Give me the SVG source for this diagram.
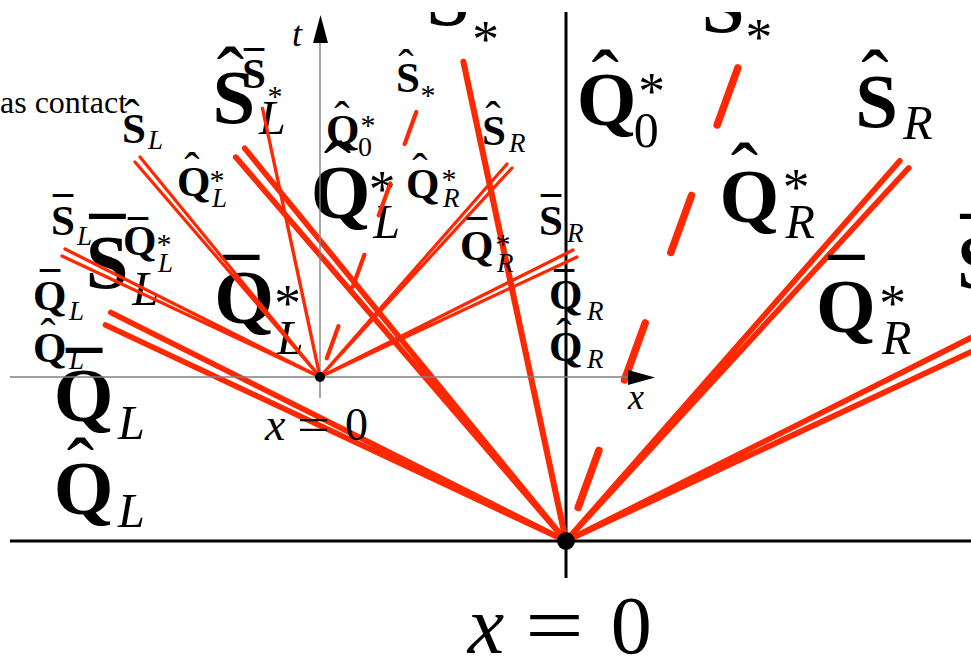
<svg xmlns="http://www.w3.org/2000/svg" width="971" height="657" viewBox="0 0 971 657">
<style>
.red{stroke:#ff2800;fill:none;stroke-linecap:round}
.dbl{stroke-width:3.2}
.sgl{stroke-width:3.4}
.dash{stroke-width:4.2;stroke-dasharray:34 42;stroke-dashoffset:-2.1}
text{font-family:"Liberation Serif","Times New Roman",serif;fill:#000}
.b{font-weight:bold;font-size:43px}
.i{font-style:italic;font-size:27px}
.r{font-size:28px}
.st{font-size:30px;text-anchor:middle}
.hat{font-size:46px;text-anchor:middle}
.bar{font-weight:bold;font-size:40px;text-anchor:middle}
.eq{font-size:46px}
.ax{font-style:italic;font-size:36px}
</style>
<defs>
<clipPath id="clipTop" clipPathUnits="userSpaceOnUse"><rect x="0" y="12" width="971" height="645"/></clipPath>
</defs>

<!-- large diagram -->
<g id="large" clip-path="url(#clipTop)">
<g id="large-axes" stroke="#000" stroke-width="3">
<line x1="10" y1="541" x2="971" y2="541"/>
<line x1="566" y1="12" x2="566" y2="578"/>
</g>
<g transform="translate(566 541) scale(1.785)">
<g id="large-connectors" class="red">
<path class="dbl" d="M0 0L-255 -128M0 0L-258 -121"/>
<path class="dbl" d="M0 0L-185 -215M0 0L-180 -220"/>
<path class="sgl" d="M0 0L-57.5 -268.5"/>
<path class="dash" d="M97 -267L0 0"/>
<path class="dbl" d="M0 0L187 -213M0 0L192 -209"/>
<path class="dbl" d="M0 0L253 -127M0 0L257 -120"/>
</g>
<circle cx="0" cy="0" r="5" fill="#000"/>
<g id="large-labels">
<g id="L-SL-hat"><text class="b" x="-198" y="-234">S</text><text class="hat" x="-188" y="-245">ˆ</text><text class="i" x="-172" y="-228">L</text></g>
<g id="L-QL-hat-star"><text class="b" x="-143" y="-181">Q</text><text class="hat" x="-128" y="-192">ˆ</text><text class="st" x="-103" y="-187">*</text><text class="i" x="-108" y="-170">L</text></g>
<g id="L-SL-bar"><text class="b" x="-269" y="-142">S</text><text class="bar" x="-257" y="-153">¯</text><text class="i" x="-243" y="-132">L</text></g>
<g id="L-QL-bar-star"><text class="b" x="-197" y="-122">Q</text><text class="bar" x="-182" y="-130">¯</text><text class="st" x="-156" y="-123">*</text><text class="i" x="-162" y="-105">L</text></g>
<g id="L-QL-bar"><text class="b" x="-287" y="-67">Q</text><text class="bar" x="-270" y="-78">¯</text><text class="i" x="-251" y="-57">L</text></g>
<g id="L-QL-hatq"><text class="b" x="-287" y="-15">Q</text><text class="hat" x="-272" y="-26">ˆ</text><text class="i" x="-251" y="-8">L</text></g>
<g id="L-Sstar-bar"><text class="b" x="-78" y="-289">S</text><text class="bar" x="-66" y="-299">¯</text><text class="st" x="-45" y="-271">*</text></g>
<g id="L-Sstar-hat"><text class="b" x="76" y="-285">S</text><text class="hat" x="86" y="-295">ˆ</text><text class="st" x="108" y="-272">*</text></g>
<g id="L-Q0"><text class="b" x="6" y="-233">Q</text><text class="hat" x="22" y="-243">ˆ</text><text class="st" x="48" y="-242">*</text><text class="r" x="38" y="-221">0</text></g>
<g id="L-QR-hat-star"><text class="b" x="86" y="-179">Q</text><text class="hat" x="100" y="-191">ˆ</text><text class="st" x="129" y="-188">*</text><text class="i" x="123" y="-170">R</text></g>
<g id="L-SR-hat"><text class="b" x="162" y="-232">S</text><text class="hat" x="173" y="-243">ˆ</text><text class="i" x="189" y="-225">R</text></g>
<g id="L-QR-bar-star"><text class="b" x="140" y="-117">Q</text><text class="bar" x="157" y="-130">¯</text><text class="st" x="183" y="-123">*</text><text class="i" x="177" y="-105">R</text></g>
<g id="L-SR-bar"><text class="b" x="219" y="-142">S</text><text class="bar" x="231" y="-153">¯</text><text class="i" x="247" y="-135">R</text></g>
<g id="L-QR-bar"><text class="b" x="229" y="-68">Q</text><text class="bar" x="244" y="-78">¯</text><text class="i" x="267" y="-57">R</text></g>
<g id="L-QR-hatq"><text class="b" x="229" y="-16">Q</text><text class="hat" x="244" y="-26">ˆ</text><text class="i" x="267" y="-9">R</text></g>
<text class="eq" y="63"><tspan x="-55" font-style="italic">x</tspan><tspan x="-23" textLength="33" lengthAdjust="spacingAndGlyphs">=</tspan><tspan x="25">0</tspan></text>
</g>
</g>
</g>

<!-- small diagram -->
<g id="small">
<g id="small-axes">
<line x1="10" y1="377" x2="630" y2="377" stroke="#808080" stroke-width="1.4"/>
<line x1="320" y1="398" x2="320" y2="40" stroke="#808080" stroke-width="1.4"/>
<polygon points="628,370 655,377.5 628,385" fill="#000"/>
<polygon points="313,43 320.5,15 328,43" fill="#000"/>
<text class="ax" x="292" y="46">t</text>
<text class="ax" x="628" y="409">x</text>
</g>
<g transform="translate(320 377)">
<g id="small-connectors" class="red">
<path class="dbl" d="M0 0L-255 -128M0 0L-258 -121"/>
<path class="dbl" d="M0 0L-185 -215M0 0L-180 -220"/>
<path class="sgl" d="M0 0L-57.5 -268.5"/>
<path class="dash" d="M97 -267L0 0"/>
<path class="dbl" d="M0 0L187 -213M0 0L192 -209"/>
<path class="dbl" d="M0 0L253 -127M0 0L257 -120"/>
</g>
<circle cx="0" cy="0" r="5" fill="#000"/>
<g id="small-labels">
<g id="S-SL-hat"><text class="b" x="-198" y="-234">S</text><text class="hat" x="-188" y="-245">ˆ</text><text class="i" x="-172" y="-228">L</text></g>
<g id="S-QL-hat-star"><text class="b" x="-143" y="-181">Q</text><text class="hat" x="-128" y="-192">ˆ</text><text class="st" x="-103" y="-187">*</text><text class="i" x="-108" y="-170">L</text></g>
<g id="S-SL-bar"><text class="b" x="-269" y="-142">S</text><text class="bar" x="-257" y="-153">¯</text><text class="i" x="-243" y="-132">L</text></g>
<g id="S-QL-bar-star"><text class="b" x="-197" y="-122">Q</text><text class="bar" x="-182" y="-130">¯</text><text class="st" x="-156" y="-123">*</text><text class="i" x="-162" y="-105">L</text></g>
<g id="S-QL-bar"><text class="b" x="-287" y="-67">Q</text><text class="bar" x="-270" y="-78">¯</text><text class="i" x="-251" y="-57">L</text></g>
<g id="S-QL-hatq"><text class="b" x="-287" y="-15">Q</text><text class="hat" x="-272" y="-26">ˆ</text><text class="i" x="-251" y="-8">L</text></g>
<g id="S-Sstar-bar"><text class="b" x="-78" y="-289">S</text><text class="bar" x="-66" y="-299">¯</text><text class="st" x="-45" y="-271">*</text></g>
<g id="S-Sstar-hat"><text class="b" x="76" y="-285">S</text><text class="hat" x="86" y="-295">ˆ</text><text class="st" x="108" y="-272">*</text></g>
<g id="S-Q0"><text class="b" x="6" y="-233">Q</text><text class="hat" x="22" y="-243">ˆ</text><text class="st" x="48" y="-242">*</text><text class="r" x="38" y="-221">0</text></g>
<g id="S-QR-hat-star"><text class="b" x="86" y="-179">Q</text><text class="hat" x="100" y="-191">ˆ</text><text class="st" x="129" y="-188">*</text><text class="i" x="123" y="-170">R</text></g>
<g id="S-SR-hat"><text class="b" x="162" y="-232">S</text><text class="hat" x="173" y="-243">ˆ</text><text class="i" x="189" y="-225">R</text></g>
<g id="S-QR-bar-star"><text class="b" x="140" y="-117">Q</text><text class="bar" x="157" y="-130">¯</text><text class="st" x="183" y="-123">*</text><text class="i" x="177" y="-105">R</text></g>
<g id="S-SR-bar"><text class="b" x="219" y="-142">S</text><text class="bar" x="231" y="-153">¯</text><text class="i" x="247" y="-135">R</text></g>
<g id="S-QR-bar"><text class="b" x="229" y="-68">Q</text><text class="bar" x="244" y="-78">¯</text><text class="i" x="267" y="-57">R</text></g>
<g id="S-QR-hatq"><text class="b" x="229" y="-16">Q</text><text class="hat" x="244" y="-26">ˆ</text><text class="i" x="267" y="-9">R</text></g>
<text class="eq" y="63"><tspan x="-55" font-style="italic">x</tspan><tspan x="-23" textLength="33" lengthAdjust="spacingAndGlyphs">=</tspan><tspan x="25">0</tspan></text>
</g>
</g>
</g>

<text x="0" y="113" font-size="32">as contact</text>
</svg>
